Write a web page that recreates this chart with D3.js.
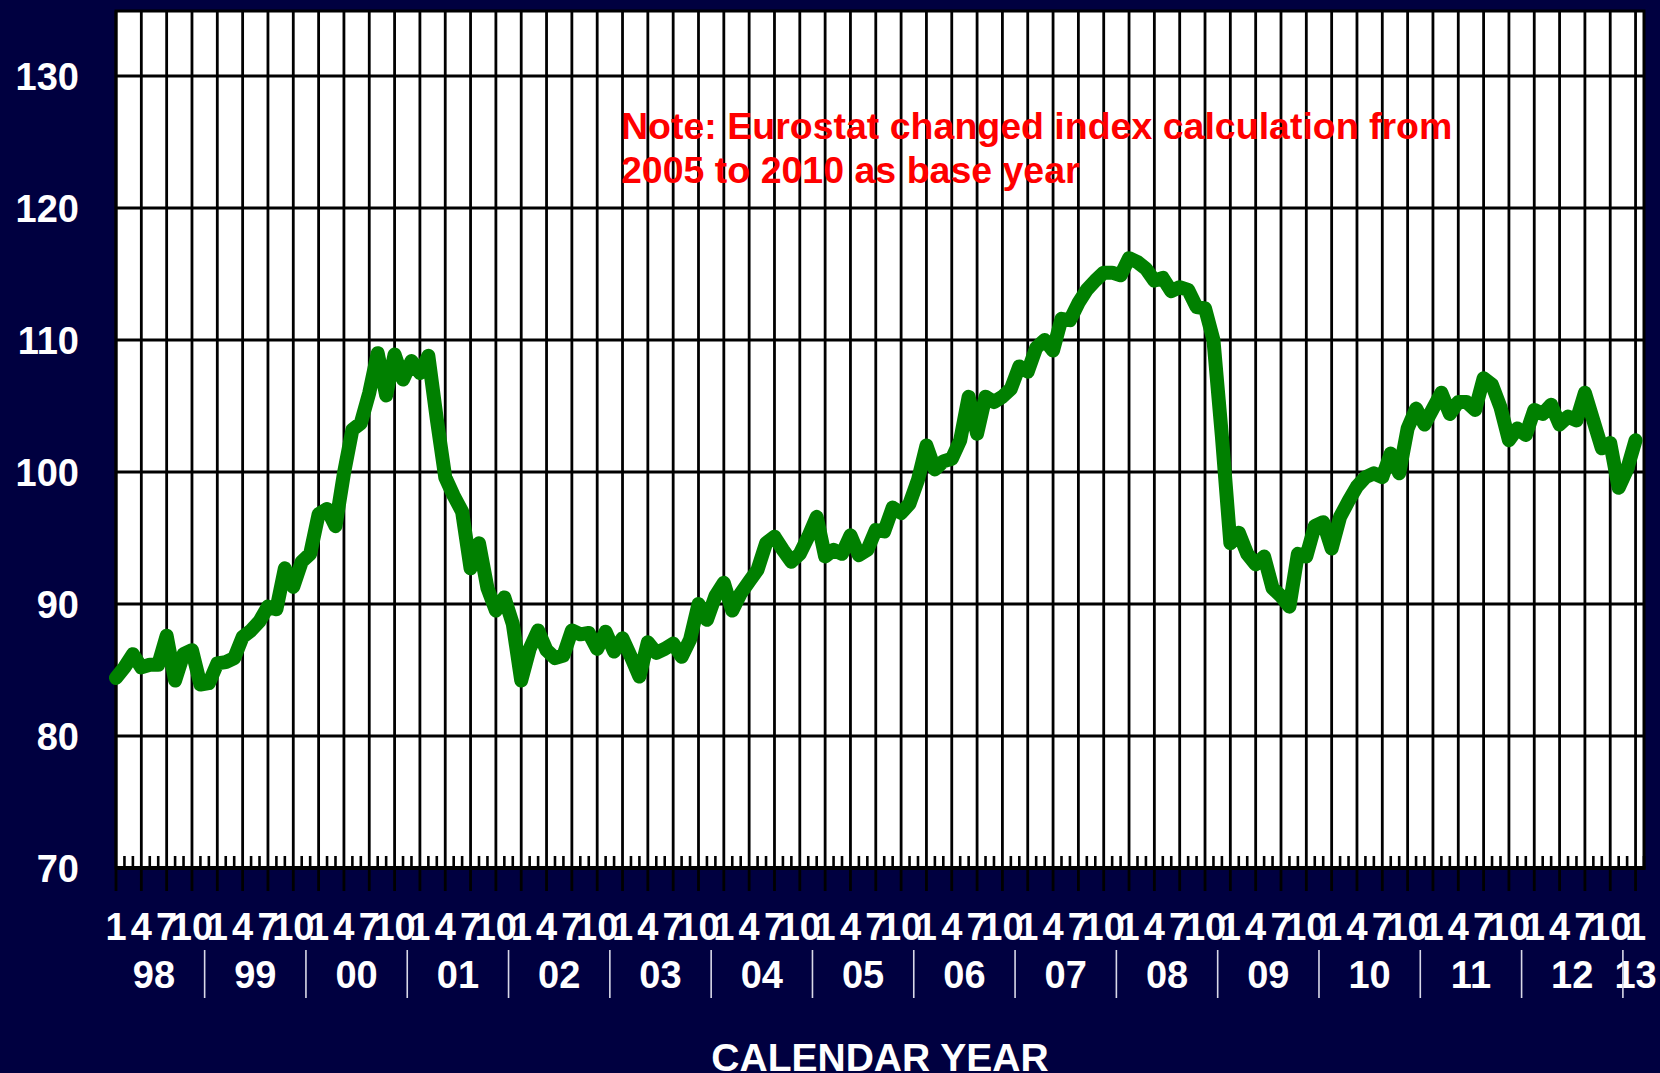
<!DOCTYPE html>
<html>
<head>
<meta charset="utf-8">
<script src="https://cdn.jsdelivr.net/npm/d3@7"></script>
<style>
  html, body { margin: 0; padding: 0; background: #000040; }
  svg { display: block; }
  text { font-family: "Liberation Sans", Arial, sans-serif; font-weight: bold; }
</style>
</head>
<body>
<svg id="chart" width="1660" height="1073"></svg>
<script>
// ---- data ----
const startYear = 1998;
const yearLabels = ["98","99","00","01","02","03","04","05","06","07","08","09","10","11","12","13"];
const monthTickLabels = ["1","4","7","10"];
const yTickValues = [70, 80, 90, 100, 110, 120, 130];
const axisTitle = "CALENDAR YEAR";
const noteLines = ["Note: Eurostat changed index calculation from", "2005 to 2010 as base year"];
// monthly index values, Jan 1998 .. Jan 2013
const values1998 = [84.4, 85.2, 86.2, 85.2, 85.4, 85.4, 87.6, 84.2, 86.2, 86.5, 83.9, 84.0];
const values1999 = [85.5, 85.6, 85.9, 87.5, 88.0, 88.7, 89.8, 89.6, 92.7, 91.3, 93.2, 93.8];
const values2000 = [96.8, 97.2, 95.9, 99.9, 103.2, 103.7, 106.0, 109.0, 105.8, 108.9, 107.0, 108.4];
const values2001 = [107.5, 108.8, 104.0, 99.6, 98.2, 97.0, 92.7, 94.6, 91.2, 89.5, 90.5, 88.5];
const values2002 = [84.2, 86.6, 88.0, 86.5, 85.9, 86.1, 88.0, 87.7, 87.8, 86.6, 87.9, 86.4];
const values2003 = [87.4, 86.0, 84.5, 87.1, 86.3, 86.6, 87.0, 86.0, 87.3, 90.0, 88.8, 90.6];
const values2004 = [91.6, 89.5, 90.8, 91.7, 92.6, 94.6, 95.1, 94.1, 93.2, 93.8, 95.1, 96.6];
const values2005 = [93.6, 94.1, 93.8, 95.2, 93.7, 94.1, 95.6, 95.5, 97.3, 96.9, 97.6, 99.4];
const values2006 = [102.0, 100.2, 100.8, 101.0, 102.4, 105.7, 102.9, 105.7, 105.3, 105.7, 106.3, 108.0];
const values2007 = [107.6, 109.4, 110.0, 109.2, 111.6, 111.5, 112.8, 113.8, 114.5, 115.1, 115.1, 114.9];
const values2008 = [116.2, 115.9, 115.4, 114.5, 114.7, 113.7, 114.0, 113.8, 112.5, 112.4, 110.0, 102.7];
const values2009 = [94.6, 95.4, 93.8, 93.0, 93.6, 91.2, 90.6, 89.8, 93.8, 93.6, 95.9, 96.2];
const values2010 = [94.2, 96.6, 97.8, 98.9, 99.6, 99.9, 99.6, 101.4, 99.9, 103.3, 104.8, 103.6];
const values2011 = [104.8, 106.0, 104.4, 105.3, 105.3, 104.7, 107.1, 106.6, 104.9, 102.4, 103.3, 102.8];
const values2012 = [104.7, 104.4, 105.1, 103.6, 104.2, 103.9, 106.0, 103.9, 101.8, 102.2, 98.8, 100.2];
const values2013 = [102.4];
const indexValues = [].concat(values1998, values1999, values2000, values2001, values2002, values2003,
  values2004, values2005, values2006, values2007, values2008, values2009, values2010, values2011,
  values2012, values2013);
const categoryCount = 182; // Jan 1998 .. Feb 2013 categories on the axis

// ---- layout ----
const svg = d3.select("#chart");
const plotLeft = 116, plotRight = 1644, plotTop = 11, plotBottom = 868;
const x = d3.scaleLinear().domain([0, categoryCount - 1]).range([plotLeft, plotRight]);
const y = d3.scaleLinear().domain([70, 135]).range([plotBottom, plotBottom - 65 * 13.2]);

svg.append("rect").attr("x", 0).attr("y", 0).attr("width", 1660).attr("height", 1073).attr("fill", "#000040");
svg.append("rect").attr("x", plotLeft).attr("y", plotTop)
  .attr("width", plotRight - plotLeft).attr("height", plotBottom - plotTop).attr("fill", "#ffffff");

const allMonths = d3.range(0, categoryCount);
const majorMonths = allMonths.filter(i => i % 3 === 0);
const minorMonths = allMonths.filter(i => i % 3 !== 0);

// vertical gridlines (quarterly)
svg.append("g").selectAll("line").data(majorMonths).join("line")
  .attr("x1", d => x(d)).attr("x2", d => x(d))
  .attr("y1", plotTop).attr("y2", plotBottom)
  .attr("stroke", "#000").attr("stroke-width", 2.8);

// horizontal gridlines
svg.append("g").selectAll("line").data(yTickValues.filter(v => v > 70)).join("line")
  .attr("x1", plotLeft).attr("x2", plotRight)
  .attr("y1", d => y(d)).attr("y2", d => y(d))
  .attr("stroke", "#000").attr("stroke-width", 2.8);

// minor ticks (monthly, inside)
svg.append("g").selectAll("line").data(minorMonths).join("line")
  .attr("x1", d => x(d)).attr("x2", d => x(d))
  .attr("y1", plotBottom - 12).attr("y2", plotBottom)
  .attr("stroke", "#000").attr("stroke-width", 2.6);

// major ticks (outside)
svg.append("g").selectAll("line").data(majorMonths).join("line")
  .attr("x1", d => x(d)).attr("x2", d => x(d))
  .attr("y1", plotBottom).attr("y2", plotBottom + 23)
  .attr("stroke", "#000").attr("stroke-width", 2.8);

// frame
svg.append("rect").attr("x", plotLeft).attr("y", plotTop)
  .attr("width", plotRight - plotLeft).attr("height", plotBottom - plotTop)
  .attr("fill", "none").attr("stroke", "#000").attr("stroke-width", 3);
svg.append("line").attr("x1", plotLeft).attr("x2", plotRight + 1.5)
  .attr("y1", plotBottom).attr("y2", plotBottom).attr("stroke", "#000").attr("stroke-width", 4);

// y-axis labels
svg.append("g").selectAll("text").data(yTickValues).join("text")
  .attr("x", 79).attr("y", d => y(d)).attr("dy", "0.36em")
  .attr("text-anchor", "end").attr("fill", "#ffffff").attr("font-size", 38)
  .text(d => d);

// month labels
svg.append("g").selectAll("text").data(majorMonths).join("text")
  .attr("x", d => x(d)).attr("y", 940)
  .attr("text-anchor", "middle").attr("fill", "#ffffff").attr("font-size", 38)
  .text(d => monthTickLabels[(d % 12) / 3]);

// year labels
const yearIdx = yearLabels.map((_, k) => k);
svg.append("g").selectAll("text").data(yearIdx).join("text")
  .attr("x", k => k === yearLabels.length - 1 ? x(12 * k) : x(12 * k + 4.5)).attr("y", 988)
  .attr("text-anchor", "middle").attr("fill", "#ffffff").attr("font-size", 38)
  .text(k => yearLabels[k]);

// year separators
svg.append("g").selectAll("line").data(yearIdx.slice(1)).join("line")
  .attr("x1", k => x(12 * k - 1.5)).attr("x2", k => x(12 * k - 1.5))
  .attr("y1", 950).attr("y2", 998)
  .attr("stroke", "#d8d8e8").attr("stroke-width", 1.6);

// axis title
svg.append("text").attr("x", (plotLeft + plotRight) / 2).attr("y", 1071)
  .attr("text-anchor", "middle").attr("fill", "#ffffff").attr("font-size", 39)
  .text(axisTitle);

// data line
const line = d3.line().x((d, i) => x(i)).y(d => y(d));
svg.append("path").datum(indexValues)
  .attr("d", line).attr("fill", "none")
  .attr("stroke", "#008000").attr("stroke-width", 14)
  .attr("stroke-linejoin", "round").attr("stroke-linecap", "round");

// note
svg.append("g").selectAll("text").data(noteLines).join("text")
  .attr("x", 621).attr("y", (d, i) => 139 + i * 44)
  .attr("fill", "#ff0000").attr("font-size", 37.5)
  .text(d => d);
</script>
</body>
</html>
